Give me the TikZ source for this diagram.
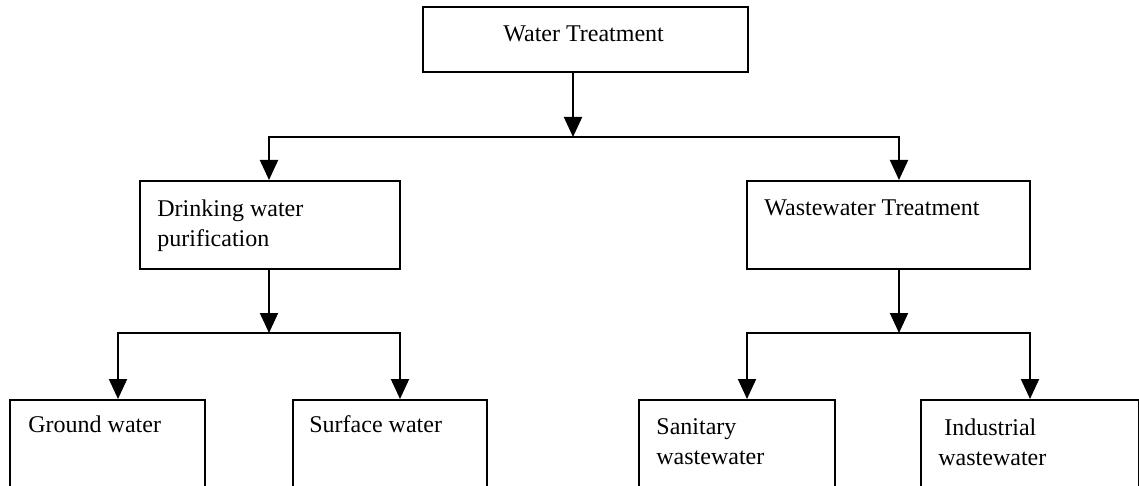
\documentclass[tikz,border=0pt]{standalone}
\usepackage{fontspec}
\setmainfont{Liberation Serif}
\usetikzlibrary{arrows.meta}
\begin{document}
\begin{tikzpicture}[x=0.5pt,y=-0.5pt,
	box/.style={draw=black, line width=1pt, inner sep=0pt, anchor=north west},
	lbl/.style={inner sep=0pt, anchor=north west, align=left, font=\fontsize{12}{15}\selectfont},
	arr/.style={draw=black, line width=1pt, -{Triangle[length=10pt,width=9pt]}}]
	\clip (0,0) rectangle (1139,486);
	\node[box, minimum width=162.5pt, minimum height=32.5pt] (wt) at (422,6) {};
	\node[box, minimum width=130pt, minimum height=44pt] (dw) at (139,180) {};
	\node[box, minimum width=141.5pt, minimum height=44pt] (ww) at (746,180) {};
	\node[box, minimum width=97.5pt, minimum height=46pt] (gw) at (9,399) {};
	\node[box, minimum width=97pt, minimum height=46pt] (sw) at (292,399) {};
	\node[box, minimum width=98pt, minimum height=46pt] (sa) at (638,399) {};
	\node[box, minimum width=109pt, minimum height=46pt] (in) at (920,399) {};
	\node[lbl] (wtl) at (503,25) {Water Treatment};
	\node[lbl] (dwl) at (157,199) {Drinking water\\purification};
	\node[lbl] (wwl) at (764,199) {Wastewater Treatment};
	\node[lbl] (gwl) at (28,415) {Ground water};
	\node[lbl] (swl) at (309,415) {Surface water};
	\node[lbl] (sal) at (656,418) {Sanitary\\wastewater};
	\node[lbl] (inl) at (938,418) {\hspace*{3pt}Industrial\\wastewater};
	\coordinate (j0) at (573,137);
	\coordinate (j1) at (269,137);
	\coordinate (j2) at (899,137);
	\coordinate (j3) at (269,333);
	\coordinate (j4) at (118,333);
	\coordinate (j5) at (400,333);
	\coordinate (j6) at (899,333);
	\coordinate (j7) at (747,333);
	\coordinate (j8) at (1030,333);
	\draw[arr] (wt.south -| j0) -- (j0);
	\draw[arr] (j0) -| (j1 |- dw.north);
	\draw[arr] (j0) -| (j2 |- ww.north);
	\draw[arr] (dw.south -| j3) -- (j3);
	\draw[arr] (j3) -| (j4 |- gw.north);
	\draw[arr] (j3) -| (j5 |- sw.north);
	\draw[arr] (ww.south -| j6) -- (j6);
	\draw[arr] (j6) -| (j7 |- sa.north);
	\draw[arr] (j6) -| (j8 |- in.north);
\end{tikzpicture}
\end{document}
